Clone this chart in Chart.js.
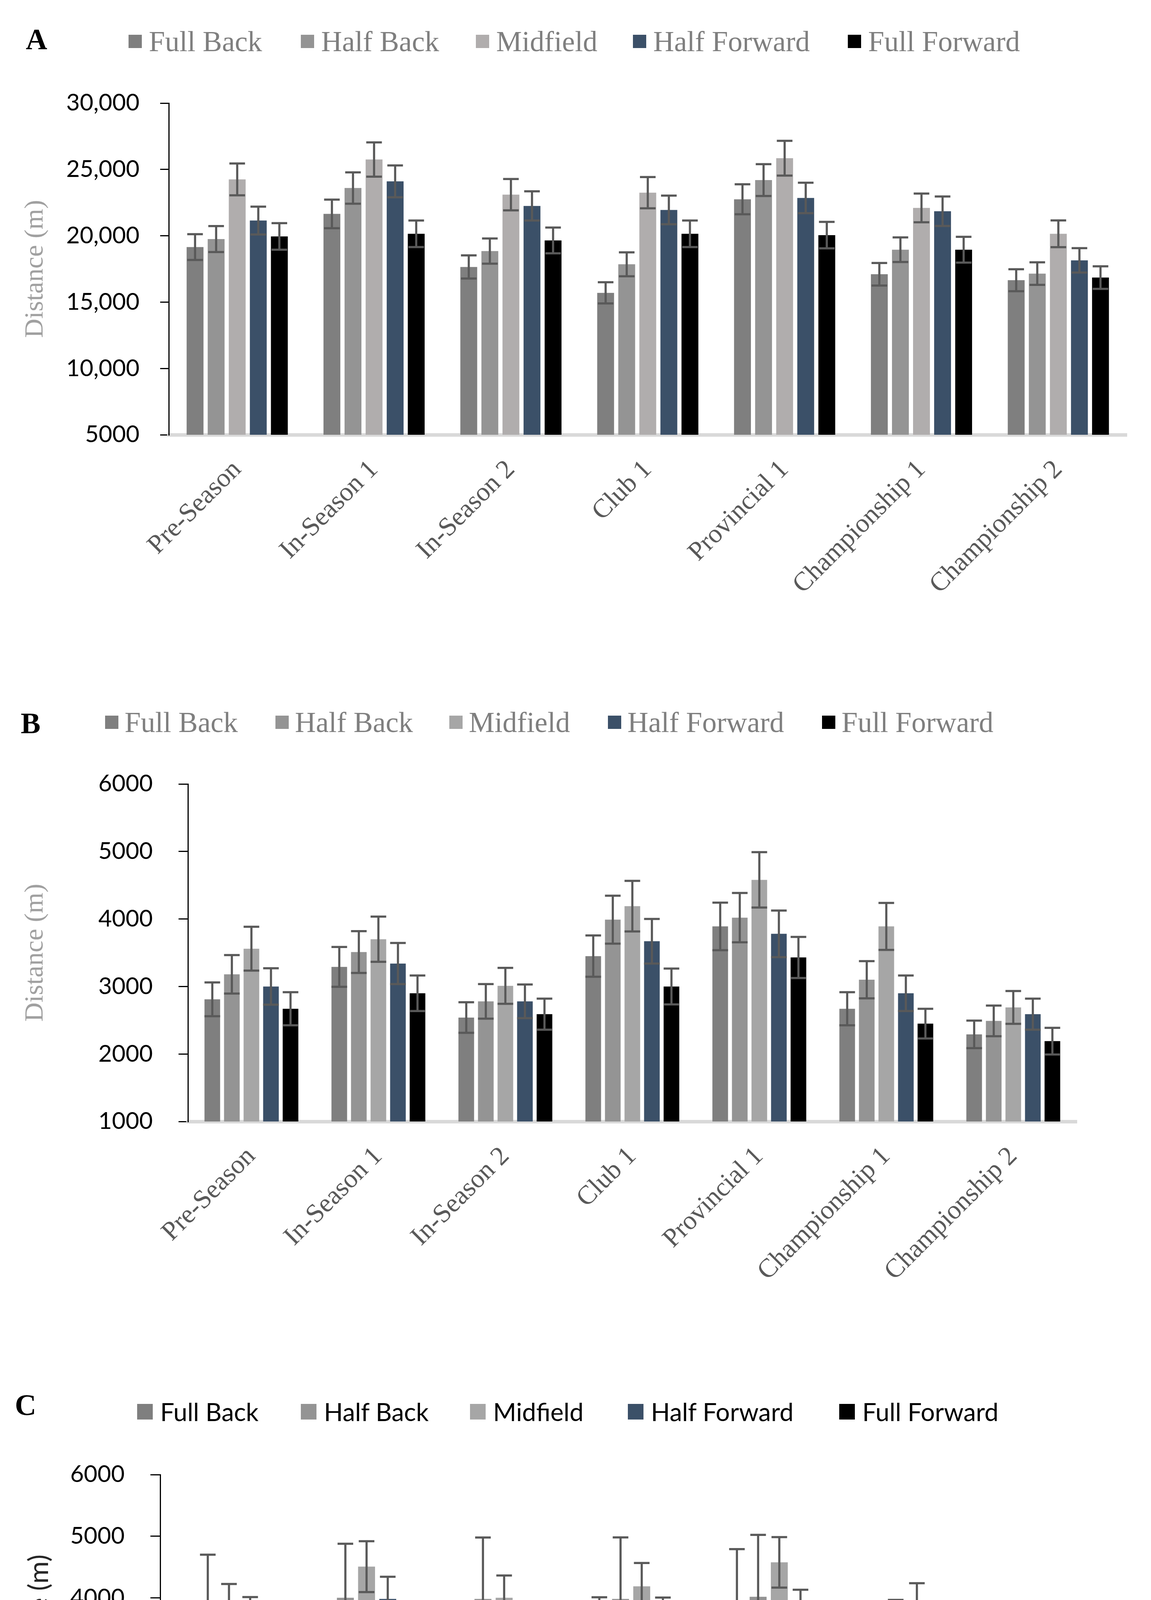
<!DOCTYPE html>
<html>
<head>
<meta charset="utf-8">
<script src="https://cdn.jsdelivr.net/npm/chart.js@4.4.1/dist/chart.umd.min.js"></script>
<style>
  body { margin: 0; background: #fff; width: 2946px; height: 5033px; position: relative; overflow: hidden; }
  canvas { position: absolute; left: 0; }
  .panel-letter { position: absolute; font-family: "Liberation Serif"; font-weight: bold; font-size: 76px; line-height: 1; transform: translateY(-50%); }
  .legend-item { position: absolute; display: flex; align-items: center; white-space: nowrap; transform: translateY(-50%); }
  .legend-color-box { flex: none; }
</style>
</head>
<body>
<canvas id="chartA" width="2946" height="1650" style="top:0px"></canvas>
<canvas id="chartB" width="2946" height="1700" style="top:1700px"></canvas>
<canvas id="chartC" width="2946" height="1633" style="top:3400px"></canvas>
<script>
// Categories and positions
const categories = ["Pre-Season", "In-Season 1", "In-Season 2", "Club 1", "Provincial 1", "Championship 1", "Championship 2"];
const positions = ["Full Back", "Half Back", "Midfield", "Half Forward", "Full Forward"];

// Panel A - mean and SD (m)
const aFullBack = [19150, 21650, 17650, 15700, 22750, 17100, 16650];
const aFullBackSd = [970, 1080, 870, 800, 1130, 850, 830];
const aHalfBack = [19750, 23600, 18850, 17850, 24200, 18950, 17150];
const aHalfBackSd = [980, 1180, 950, 900, 1200, 930, 850];
const aMidfield = [24250, 25750, 23100, 23250, 25850, 22100, 20150];
const aMidfieldSd = [1200, 1290, 1180, 1180, 1310, 1080, 1010];
const aHalfForward = [21150, 24100, 22250, 21950, 22850, 21850, 18150];
const aHalfForwardSd = [1050, 1200, 1100, 1080, 1150, 1110, 920];
const aFullForward = [19950, 20150, 19650, 20150, 20050, 18950, 16850];
const aFullForwardSd = [1000, 1000, 970, 1000, 1000, 970, 850];

// Panel B - mean and SD (m)
const bFullBack = [2810, 3290, 2540, 3450, 3890, 2670, 2290];
const bFullBackSd = [250, 295, 227, 306, 352, 245, 204];
const bHalfBack = [3180, 3510, 2780, 3990, 4020, 3100, 2490];
const bHalfBackSd = [285, 310, 256, 355, 365, 276, 227];
const bMidfield = [3560, 3700, 3010, 4190, 4580, 3890, 2690];
const bMidfieldSd = [325, 335, 266, 375, 410, 348, 243];
const bHalfForward = [3000, 3340, 2780, 3670, 3780, 2900, 2590];
const bHalfForwardSd = [270, 305, 250, 330, 345, 263, 230];
const bFullForward = [2670, 2900, 2590, 3000, 3430, 2450, 2190];
const bFullForwardSd = [245, 263, 230, 265, 305, 220, 197];

// Panel C - mean and SD (m)
const cFullBack = [2600, 2870, 2560, 3450, 3890, 2650, 2190];
const cFullBackSd = [220, 453, 410, 558, 900, 338, 351];
const cHalfBack = [3760, 4000, 3980, 3980, 4015, 2980, 2280];
const cHalfBackSd = [940, 877, 998, 1000, 1007, 985, 655];
const cMidfield = [3875, 4505, 4000, 4185, 4575, 3885, 2685];
const cMidfieldSd = [348, 413, 361, 380, 410, 351, 246];
const cHalfForward = [3680, 3980, 3540, 3675, 3785, 2905, 2765];
const cHalfForwardSd = [330, 360, 315, 328, 345, 259, 246];
const cFullForward = [2285, 2540, 2390, 2990, 3430, 2455, 2190];
const cFullForwardSd = [207, 677, 502, 460, 305, 315, 302];

// Y axis ticks
const ticksA = [5000, 10000, 15000, 20000, 25000, 30000];
const tickLabelsA = ["5000", "10,000", "15,000", "20,000", "25,000", "30,000"];
const ticksBC = [1000, 2000, 3000, 4000, 5000, 6000];
const tickLabelsBC = ["1000", "2000", "3000", "4000", "5000", "6000"];

const serif = "Liberation Serif";
const sans = "Lato";

// Draw mean +/- SD whiskers on every bar
const errorBars = {
  id: "errorBars",
  afterDatasetsDraw(chart) {
    const ctx = chart.ctx;
    const y = chart.scales.y;
    ctx.save();
    ctx.strokeStyle = "#595959";
    ctx.lineWidth = 5.5;
    chart.data.datasets.forEach((ds, i) => {
      chart.getDatasetMeta(i).data.forEach((bar, j) => {
        const top = y.getPixelForValue(ds.data[j] + ds.sd[j]);
        const bottom = y.getPixelForValue(ds.data[j] - ds.sd[j]);
        ctx.beginPath();
        ctx.moveTo(bar.x, top);
        ctx.lineTo(bar.x, bottom);
        ctx.moveTo(bar.x - 20, top);
        ctx.lineTo(bar.x + 20, top);
        ctx.moveTo(bar.x - 20, bottom);
        ctx.lineTo(bar.x + 20, bottom);
        ctx.stroke();
      });
    });
    ctx.restore();
  },
};

const panels = [
  {
    id: "chartA", letter: "A", top: 0, height: 1650,
    area: { left: 432, top: 264, right: 2884, bottom: 1113 },
    min: 5000, max: 30000, ticks: ticksA, tickLabels: tickLabelsA,
    means: [aFullBack, aHalfBack, aMidfield, aHalfForward, aFullForward],
    sds: [aFullBackSd, aHalfBackSd, aMidfieldSd, aHalfForwardSd, aFullForwardSd],
    colors: ["#7f7f7f", "#949494", "#b0adad", "#3b5068", "#000000"],
    tickLen: 22, yPad: 53, xPad: 50,
    xFont: { family: serif, size: 68 }, xColor: "#595959",
    titleFont: { family: serif, size: 68 }, titleColor: "#a0a0a0", titlePad: 0,
    letterPos: { x: 66, y: 100 },
    legendY: 106, legendX: [329, 770, 1218, 1620, 2170], box: 34, boxGap: 18,
    legendFont: serif, legendSize: 74, legendColor: "#7f7f7f",
  },
  {
    id: "chartB", letter: "B", top: 1700, height: 1700,
    area: { left: 481, top: 2007, right: 2756, bottom: 2871 },
    min: 1000, max: 6000, ticks: ticksBC, tickLabels: tickLabelsBC,
    means: [bFullBack, bHalfBack, bMidfield, bHalfForward, bFullForward],
    sds: [bFullBackSd, bHalfBackSd, bMidfieldSd, bHalfForwardSd, bFullForwardSd],
    colors: ["#7f7f7f", "#949494", "#a6a6a6", "#3b5068", "#000000"],
    tickLen: 24, yPad: 66, xPad: 50,
    xFont: { family: serif, size: 68 }, xColor: "#595959",
    titleFont: { family: serif, size: 68 }, titleColor: "#a0a0a0", titlePad: 0,
    letterPos: { x: 53, y: 1851 },
    legendY: 1849, legendX: [269, 705, 1150, 1556, 2104], box: 34, boxGap: 16,
    legendFont: serif, legendSize: 74, legendColor: "#7f7f7f",
  },
  {
    id: "chartC", letter: "C", top: 3400, height: 1633,
    area: { left: 410, top: 3775, right: 2875, bottom: 4563 },
    min: 1000, max: 6000, ticks: ticksBC, tickLabels: tickLabelsBC,
    means: [cFullBack, cHalfBack, cMidfield, cHalfForward, cFullForward],
    sds: [cFullBackSd, cHalfBackSd, cMidfieldSd, cHalfForwardSd, cFullForwardSd],
    colors: ["#7f7f7f", "#949494", "#a6a6a6", "#3b5068", "#000000"],
    tickLen: 25, yPad: 66, xPad: 50,
    xFont: { family: sans, size: 62 }, xColor: "#000000",
    titleFont: { family: sans, size: 70 }, titleColor: "#262626", titlePad: 8,
    letterPos: { x: 38, y: 3596 },
    legendY: 3614, legendX: [351, 770, 1203, 1607, 2148], box: 40, boxGap: 19,
    legendFont: sans, legendSize: 64, legendColor: "#000000",
  },
];

// Panel letter and legend are plain HTML next to the canvas
function buildLegend(p) {
  const letter = document.createElement("div");
  letter.className = "panel-letter";
  letter.textContent = p.letter;
  letter.style.left = p.letterPos.x + "px";
  letter.style.top = p.letterPos.y + "px";
  document.body.appendChild(letter);

  positions.forEach((name, i) => {
    const item = document.createElement("div");
    item.className = "legend-item";
    item.style.left = p.legendX[i] + "px";
    item.style.top = p.legendY + "px";
    item.innerHTML = `
      <div class="legend-color-box" style="width:${p.box}px;height:${p.box}px;margin-right:${p.boxGap}px;background-color:${p.colors[i]}"></div>
      <div style="font-family:'${p.legendFont}';font-size:${p.legendSize}px;color:${p.legendColor};line-height:1">${name}</div>
    `;
    document.body.appendChild(item);
  });
}

function createPanel(p) {
  const xAxisHeight = 400;
  const ctx = document.getElementById(p.id).getContext("2d");
  new Chart(ctx, {
    type: "bar",
    data: {
      labels: categories,
      datasets: positions.map((name, i) => ({
        label: name,
        data: p.means[i],
        sd: p.sds[i],
        backgroundColor: p.colors[i],
        borderWidth: 0,
        categoryPercentage: 0.77,
        barPercentage: 0.8,
      })),
    },
    options: {
      responsive: false,
      devicePixelRatio: 1,
      animation: false,
      layout: {
        padding: {
          left: 50,
          top: p.area.top - p.top,
          right: 2946 - p.area.right,
          bottom: p.height - (p.area.bottom - p.top) - xAxisHeight,
        },
      },
      plugins: { legend: { display: false }, tooltip: { enabled: false } },
      scales: {
        x: {
          afterFit: (scale) => { scale.height = xAxisHeight; },
          grid: { display: false, drawTicks: false },
          border: { color: "#d9d9d9", width: 9 },
          ticks: {
            autoSkip: false,
            minRotation: 45,
            maxRotation: 45,
            padding: p.xPad,
            color: p.xColor,
            font: p.xFont,
          },
        },
        y: {
          min: p.min,
          max: p.max,
          afterFit: (scale) => { scale.width = p.area.left - 50; },
          afterBuildTicks: (scale) => { scale.ticks = p.ticks.map((v) => ({ value: v })); },
          grid: { drawOnChartArea: false, color: "#000", tickLength: p.tickLen, lineWidth: 3 },
          border: { color: "#000", width: 3 },
          ticks: {
            padding: p.yPad,
            color: "#000",
            font: { family: sans, size: 60 },
            callback: (value, index) => p.tickLabels[index],
          },
          title: {
            display: true,
            text: "Distance (m)",
            color: p.titleColor,
            font: p.titleFont,
            padding: p.titlePad,
          },
        },
      },
    },
    plugins: [errorBars],
  });
}

panels.forEach((p) => {
  buildLegend(p);
  createPanel(p);
});
</script>
</body>
</html>
